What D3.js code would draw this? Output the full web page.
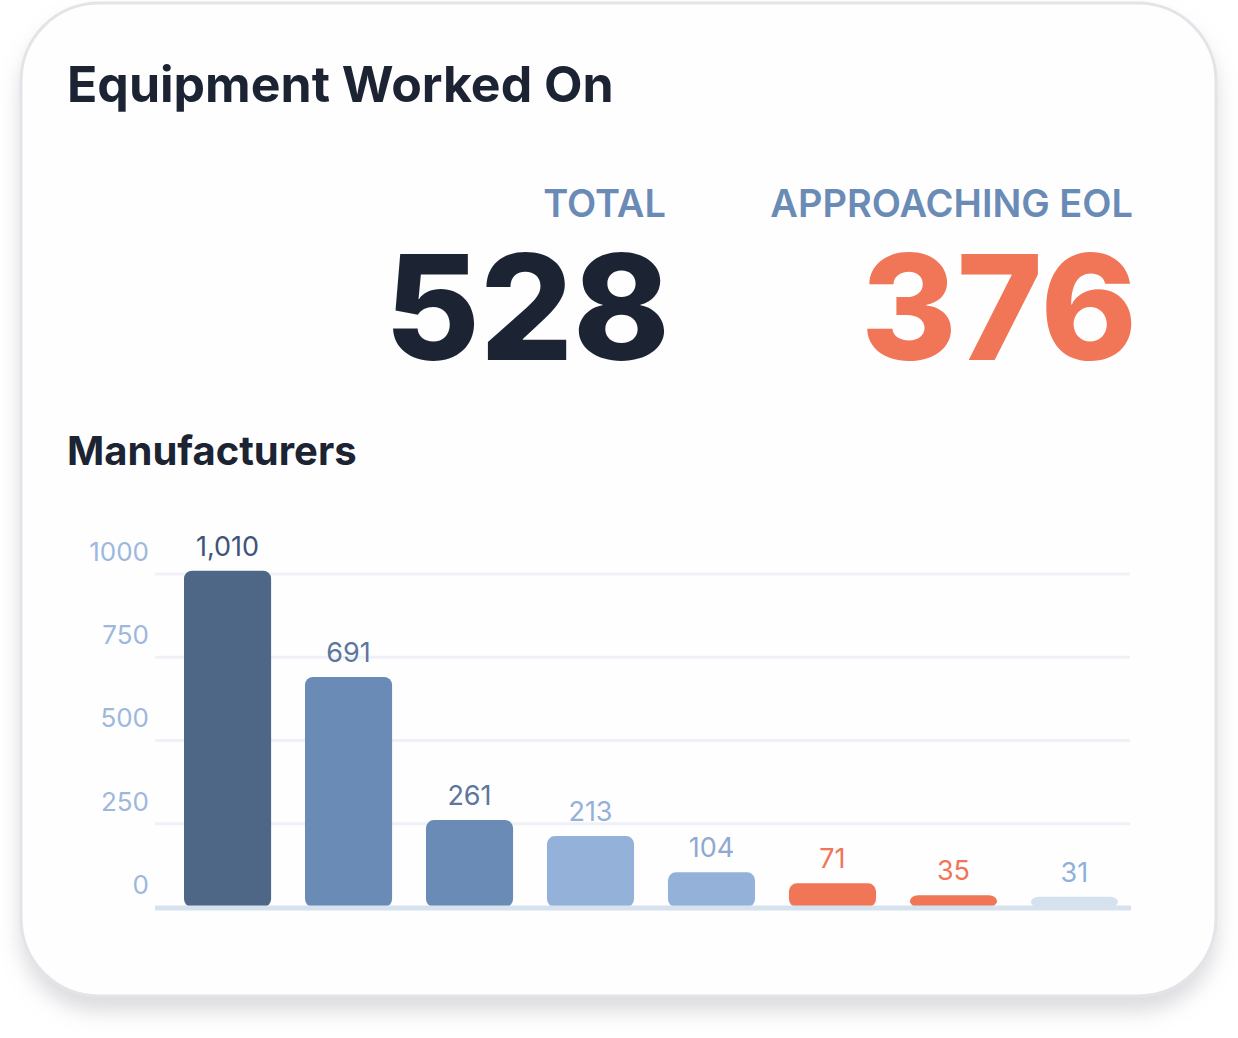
<!DOCTYPE html>
<html>
<head>
<meta charset="utf-8">
<script src="https://cdn.jsdelivr.net/npm/d3@7"></script>
<style>
  body { margin: 0; background: #ffffff; }
  svg { display: block; font-family: Inter, "Noto Sans", sans-serif; }
</style>
</head>
<body>
<div class="container"></div>
<script>
// data
var manufacturers = ["A", "B", "C", "D", "E", "F", "G", "H"];
var counts = [1010, 691, 261, 213, 104, 71, 35, 31];
var barColors = ["#4e6786", "#6a8bb5", "#6a8bb5", "#94b1da", "#94b1da", "#f07657", "#f07657", "#d5e1ec"];
var labelColors = ["#3d5478", "#5c769c", "#5c769c", "#94b1da", "#8fa9cf", "#f07657", "#f07657", "#8fb0dd"];
var yTicks = [0, 250, 500, 750, 1000];
var totalValue = 528;
var eolValue = 376;

var width = 1238, height = 1038;
var margin = {top: 574, right: 108, bottom: 131, left: 155};

var svg = d3.select(".container").append("svg")
    .attr("width", width)
    .attr("height", height);

// card shadow + card
var defs = svg.append("defs");
var f = defs.append("filter").attr("id", "shadow")
    .attr("x", "-10%").attr("y", "-10%").attr("width", "120%").attr("height", "125%");
f.append("feDropShadow")
    .attr("dx", 0).attr("dy", 14).attr("stdDeviation", 10)
    .attr("flood-color", "#9a9aa6").attr("flood-opacity", 0.35);

svg.append("rect")
    .attr("x", 21).attr("y", 3)
    .attr("width", 1195).attr("height", 993)
    .attr("rx", 78)
    .attr("fill", "#fefeff")
    .attr("stroke", "#e3e3e8")
    .attr("stroke-width", 3)
    .attr("filter", "url(#shadow)");

// headings
svg.append("text")
    .attr("x", 67).attr("y", 102)
    .attr("font-size", 50).attr("font-weight", 700)
    .attr("fill", "#1c2333")
    .text("Equipment Worked On");

svg.append("text")
    .attr("x", 666).attr("y", 217)
    .attr("text-anchor", "end")
    .attr("font-size", 38).attr("font-weight", 600)
    .attr("fill", "#6a8bb5")
    .text("TOTAL");

svg.append("text")
    .attr("x", 670).attr("y", 360)
    .attr("text-anchor", "end")
    .attr("font-size", 146).attr("font-weight", 800)
    .attr("fill", "#1c2333")
    .text(totalValue);

svg.append("text")
    .attr("x", 1133).attr("y", 217)
    .attr("text-anchor", "end")
    .attr("font-size", 38).attr("font-weight", 600)
    .attr("fill", "#6a8bb5")
    .text("APPROACHING EOL");

svg.append("text")
    .attr("x", 1137).attr("y", 360)
    .attr("text-anchor", "end")
    .attr("font-size", 146).attr("font-weight", 800)
    .attr("fill", "#f07657")
    .text(eolValue);

svg.append("text")
    .attr("x", 67).attr("y", 465)
    .attr("font-size", 40).attr("font-weight", 700)
    .attr("fill", "#1c2333")
    .text("Manufacturers");

// scales
var y = d3.scaleLinear()
    .domain([0, 1000])
    .range([height - margin.bottom, margin.top]);

var x = d3.scaleBand()
    .domain(manufacturers)
    .range([184, 1118])
    .paddingInner(0.28)
    .paddingOuter(0);

// grid lines
svg.append("g")
    .selectAll("line")
    .data(yTicks.filter(d => d > 0))
    .join("line")
      .attr("x1", margin.left).attr("x2", width - margin.right)
      .attr("y1", d => y(d)).attr("y2", d => y(d))
      .attr("stroke", "#eff1f7")
      .attr("stroke-width", 3);

// y axis labels
var yAxis = g => g
    .attr("transform", `translate(${margin.left - 6},0)`)
    .call(d3.axisLeft(y).tickValues(yTicks).tickFormat(d3.format("d")).tickSize(0).tickPadding(0))
    .call(g => g.select(".domain").remove())
    .call(g => g.selectAll("text")
        .attr("dy", "-0.52em")
        .attr("fill", "#9db8dc")
        .style("font", "400 26px Inter, sans-serif"));
svg.append("g").call(yAxis);

// bars
svg.append("g")
    .selectAll("rect")
    .data(counts)
    .join("rect")
      .attr("x", (d, i) => x(manufacturers[i]))
      .attr("y", d => y(d))
      .attr("width", x.bandwidth())
      .attr("height", d => y(0) - y(d))
      .attr("rx", 8)
      .attr("fill", (d, i) => barColors[i]);

// baseline
svg.append("line")
    .attr("x1", margin.left).attr("x2", width - margin.right + 1)
    .attr("y1", y(0) + 1).attr("y2", y(0) + 1)
    .attr("stroke", "#d6e2ee")
    .attr("stroke-width", 5);

// value labels
svg.append("g")
    .attr("text-anchor", "middle")
    .selectAll("text")
    .data(counts)
    .join("text")
      .attr("x", (d, i) => x(manufacturers[i]) + x.bandwidth() / 2)
      .attr("y", d => y(d) - 15)
      .attr("font-size", 27)
      .attr("fill", (d, i) => labelColors[i])
      .text(d => d3.format(",")(d));
</script>
</body>
</html>
